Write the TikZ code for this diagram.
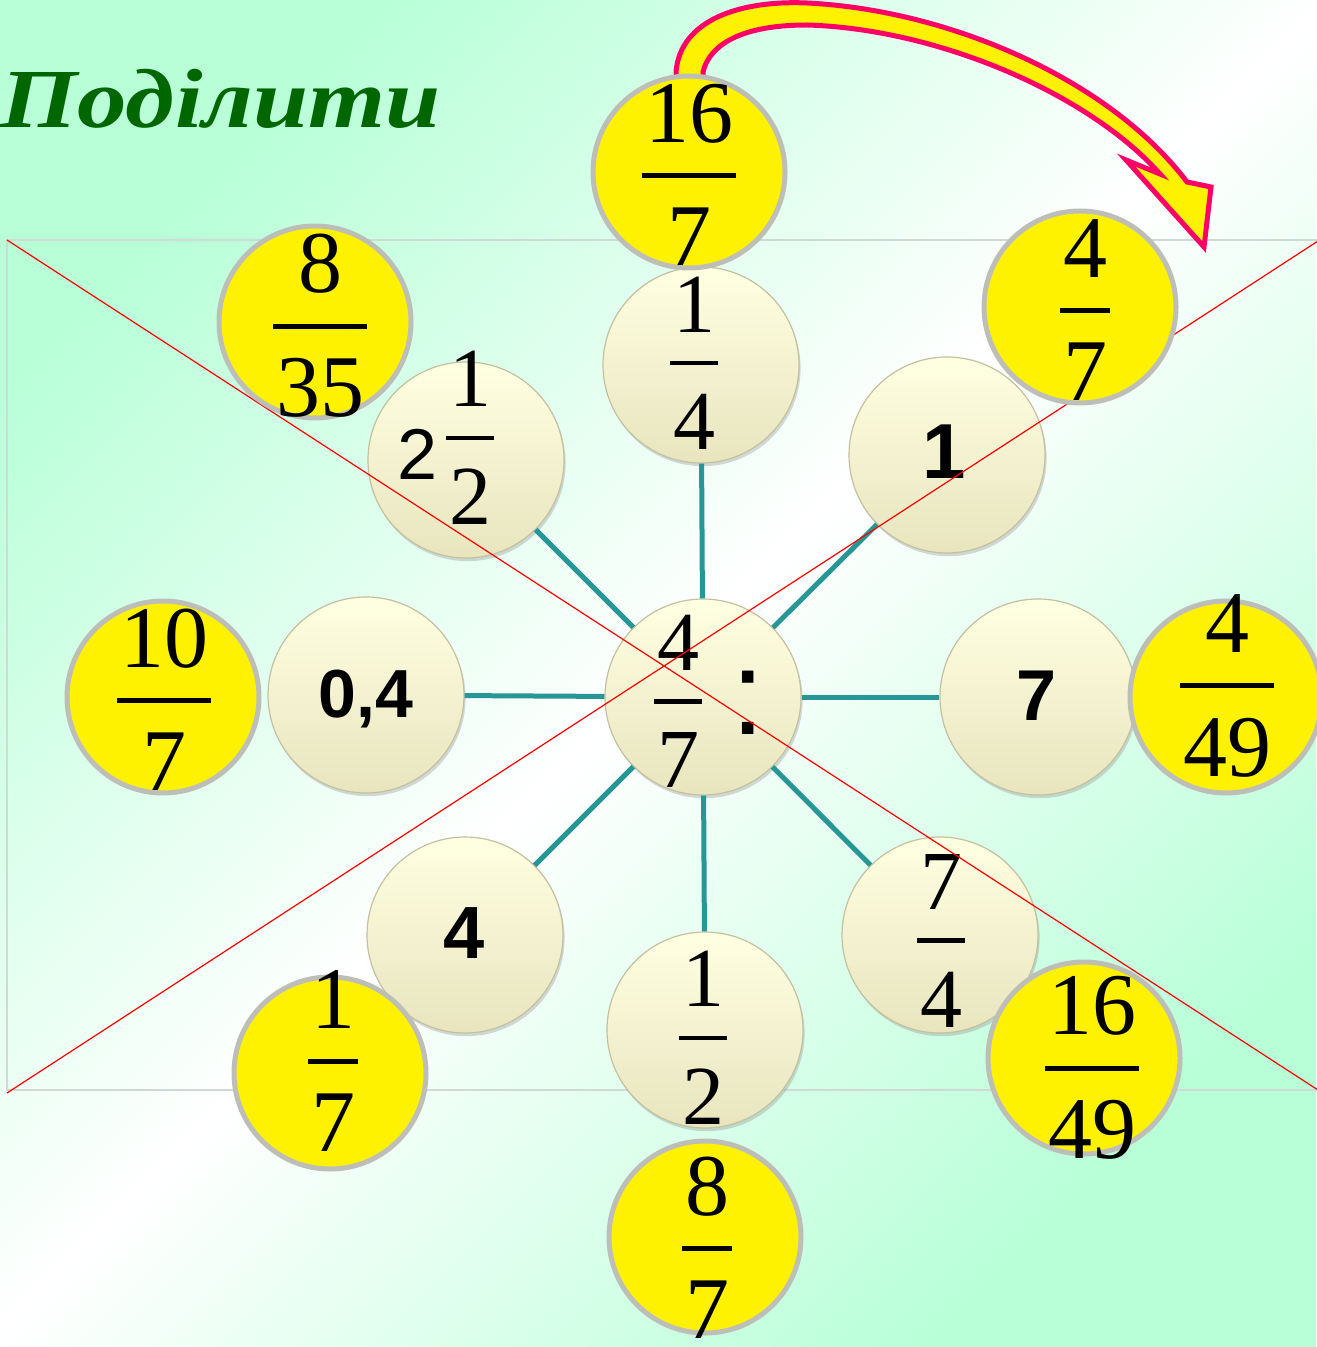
\documentclass[tikz,border=0pt]{standalone}
\usepackage{fontspec}
\setmainfont{Liberation Serif}
\setsansfont{Liberation Sans}
\usetikzlibrary{shadows,calc}
\definecolor{mint}{RGB}{184,255,216}
\definecolor{creamtop}{RGB}{255,255,226}
\definecolor{creambot}{RGB}{232,229,190}
\definecolor{creamrim}{RGB}{196,192,160}
\definecolor{ringgray}{RGB}{190,190,184}
\definecolor{spoketeal}{RGB}{38,150,150}
\definecolor{pinkline}{RGB}{255,0,102}
\definecolor{titlegreen}{RGB}{0,102,0}
\definecolor{framegray}{RGB}{208,218,212}
% stacked fraction: numerator, bar as wide as the widest line, denominator
\newcommand\fr[2]{\vbox{\offinterlineskip\halign{\hfil\kern.03em##\kern.03em\hfil\cr#1\cr
  \noalign{\kern.34em\hrule height.057em\kern.34em}#2\cr}}}
\tikzset{cream/.style={circle,minimum size=98pt,inner sep=0pt,top color=creamtop,bottom color=creambot,draw=creamrim,line width=.6pt,drop shadow={shadow xshift=.8pt,shadow yshift=-1.6pt,opacity=.3}},answer/.style={circle,minimum size=96pt,inner sep=0pt,fill=yellow,draw=ringgray,line width=2.5pt},fracC/.style={inner sep=0pt,font=\fontsize{42}{42}\selectfont},fracY/.style={inner sep=0pt,font=\fontsize{44}{44}\selectfont},whole/.style={inner sep=0pt,anchor=base,font=\sffamily\bfseries\fontsize{36}{36}\selectfont},spoke/.style={draw=spoketeal,line width=2.5pt},cross/.style={draw=red,line width=.6pt}}
\begin{document}
\begin{tikzpicture}[x=0.5pt,y=-0.5pt]
\useasboundingbox (0,0) rectangle (1316,1347);
\shade[top color=mint,bottom color=mint,middle color=white,shading angle=45] (0,0) rectangle (1316,1347);
% frame and its diagonals
\coordinate (tl) at (7,240);
\coordinate (tr) at (1318,241);
\coordinate (bl) at (7,1093);
\coordinate (br) at (1318,1090);
\draw[framegray,line width=.6pt] (tl) rectangle (br);
% the divisor and the eight dividends
\node[cream] (ctr) at (703,697) {};
\node[cream] (q1) at (701,365) {};
\node[cream] (q2) at (947,455) {};
\node[cream] (q3) at (1038,697) {};
\node[cream] (q4) at (940,935) {};
\node[cream] (q5) at (705,1030) {};
\node[cream] (q6) at (465,935) {};
\node[cream] (q7) at (366,695) {};
\node[cream] (q8) at (466,460) {};
\foreach \b in {q1,q2,q3,q4,q5,q6,q7,q8}
  \draw[spoke] (ctr) -- (\b);
\node[fracC] (ctrt) at (678,701) {\fr{4}{7}};
\node[inner sep=0pt,anchor=base,font=\sffamily\fontsize{60}{60}\selectfont] (ctrc) at (748,734) {:};
\node[fracC] (q1t) at (694,363) {\fr{1}{4}};
\node[whole,font=\sffamily\bfseries\fontsize{39}{39}\selectfont] (q2t) at (944,478) {1};
\node[whole,font=\sffamily\bfseries\fontsize{36}{36}\selectfont] (q3t) at (1037,720) {7};
\node[fracC] (q4t) at (941,941) {\fr{7}{4}};
\node[fracC] (q5t) at (703,1038) {\fr{1}{2}};
\node[whole,font=\sffamily\bfseries\fontsize{37}{37}\selectfont] (q6t) at (464,958) {4};
\node[whole,font=\sffamily\bfseries\fontsize{34}{34}\selectfont] (q7t) at (366,717) {0,4};
\node[inner sep=0pt,anchor=base,font=\sffamily\fontsize{36}{36}\selectfont] (q8w) at (418,480) {2};
\node[fracC] (q8t) at (470,438) {\fr{1}{2}};
\draw[cross] (tl) -- (br);
\draw[cross] (bl) -- (tr);
% curved arrow from the first answer
\draw[pinkline,fill=yellow,line width=2.5pt] (703,95) -- (703,72) .. controls (711,40) and (750,25) .. (807,25) .. controls (940,29) and (1090,95) .. (1160,174) -- (1126,160) -- (1204,247) -- (1211,187) -- (1187,182) .. controls (1110,80) and (950,10) .. (807,3) .. controls (740,0) and (680,20) .. (676,72) -- (676,95) -- cycle;
% answers
\node[answer] (a1) at (689,172) {};
\node[fracY] (a1t) at (689,175) {\fr{16}{7}};
\node[answer] (a2) at (1080,307) {};
\node[fracY] (a2t) at (1085,310) {\fr{4}{7}};
\node[answer] (a3) at (315,322) {};
\node[fracY] (a3t) at (320,326) {\fr{8}{35}};
\node[answer] (a4) at (163,697) {};
\node[fracY] (a4t) at (164,700) {\fr{10}{7}};
\node[answer] (a5) at (1226,697) {};
\node[fracY] (a5t) at (1227,686) {\fr{4}{49}};
\node[answer] (a6) at (1084,1058) {};
\node[fracY] (a6t) at (1092,1068) {\fr{16}{49}};
\node[answer] (a7) at (705,1237) {};
\node[fracY] (a7t) at (707,1248) {\fr{8}{7}};
\node[answer] (a8) at (330,1073) {};
\node[fracY] (a8t) at (333,1061) {\fr{1}{7}};
\node[inner sep=0pt,anchor=base west,xscale=1.18,text=titlegreen,font=\bfseries\itshape\fontsize{42}{42}\selectfont] (title) at (0,128) {Поділити};
\end{tikzpicture}
\end{document}
